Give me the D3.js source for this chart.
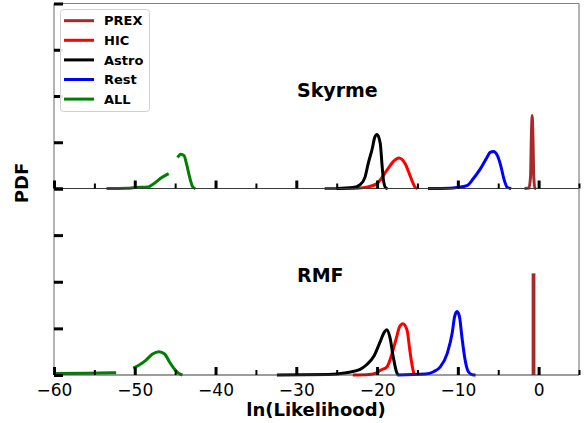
<!DOCTYPE html>
<html><head><meta charset="utf-8">
<script src="https://cdn.jsdelivr.net/npm/d3@7"></script>
<style>
body{margin:0;background:#fff;}
svg text{font-family:"DejaVu Sans",sans-serif;}
</style></head>
<body><svg id="c" width="585" height="423"></svg>
<script>
// ---- data: [ln(Likelihood), PDF] pairs ----
const seriesNames = ["PREX","HIC","Astro","Rest","ALL"];
const seriesColors = ["#a52a2a","#ff0000","#000000","#0000ff","#008000"];
const panelTitles = ["Skyrme","RMF"];
const xMajorTicks = [-60,-50,-40,-30,-20,-10,0];
const xMinorTicks = [-55,-45,-35,-25,-15,-5,5];
const yTicks = [0,1,2,3,4];

const skyrmePREX = [[-1.75,0],[-1.2,0.01],[-1.0,0.25],[-0.9,1.1],[-0.8,1.58],[-0.7,1.1],[-0.6,0.25],[-0.45,0.01],[-0.3,0]];
const skyrmeHIC = [[-26.5,0],[-23,0],[-21.3,0.03],[-20,0.11],[-18.8,0.39],[-18,0.58],[-17.3,0.66],[-16.5,0.53],[-15.9,0.27],[-15.3,0.03],[-15,0]];
const skyrmeAstro = [[-25,0],[-23,0.02],[-22.1,0.08],[-21.5,0.24],[-21.1,0.54],[-20.6,0.86],[-20.3,1.1],[-20,1.17],[-19.6,0.97],[-19.4,0.54],[-19.2,0.17],[-18.9,0.01],[-18.7,0]];
const skyrmeRest = [[-13.7,0],[-11,0.005],[-10.1,0.02],[-8.8,0.07],[-8.1,0.21],[-7.2,0.43],[-6.4,0.67],[-6,0.78],[-5.6,0.8],[-5.1,0.71],[-4.7,0.5],[-4.3,0.21],[-3.9,0.03],[-3.4,0]];
const skyrmeALL1 = [[-53.5,0],[-51,0.005],[-50,0.02],[-48.4,0.03],[-47.6,0.11],[-46.8,0.22],[-45.8,0.32]];
const skyrmeALL2 = [[-44.7,0.67],[-44.3,0.74],[-43.9,0.71],[-43.6,0.54],[-43.2,0.24],[-42.8,0.03],[-42.5,0]];

const rmfPREX = [[-0.63,0],[-0.63,2.18]];
const rmfHIC = [[-23,0],[-21,0.01],[-20,0.05],[-19.6,0.1],[-18.8,0.17],[-18.2,0.43],[-17.6,0.8],[-17.2,1.04],[-16.8,1.1],[-16.3,0.97],[-15.9,0.47],[-15.6,0.15],[-15.4,0]];
const rmfAstro = [[-32.4,0],[-26,0.01],[-23.8,0.05],[-22.1,0.12],[-21.3,0.22],[-20.4,0.4],[-19.6,0.72],[-19.1,0.92],[-18.8,0.97],[-18.4,0.8],[-18,0.39],[-17.6,0.07],[-17.4,0]];
const rmfRest = [[-17.5,0],[-14,0.02],[-13,0.07],[-12.2,0.17],[-11.3,0.47],[-10.7,0.9],[-10.4,1.25],[-10.1,1.36],[-9.8,1.25],[-9.5,0.82],[-9.1,0.32],[-8.7,0.07],[-8.2,0.005],[-7.8,0]];
const rmfALL1 = [[-60,0.03],[-56,0.035],[-52.3,0.05]];
const rmfALL2 = [[-50.2,0.15],[-49.4,0.22],[-48.6,0.32],[-47.8,0.45],[-47,0.5],[-46.3,0.45],[-45.7,0.28],[-45.1,0.13],[-44.6,0.04],[-44.1,0]];

const panels = [
  {title: panelTitles[0], curves: [[skyrmePREX],[skyrmeHIC],[skyrmeAstro],[skyrmeRest],[skyrmeALL1,skyrmeALL2]]},
  {title: panelTitles[1], curves: [[rmfPREX],[rmfHIC],[rmfAstro],[rmfRest],[rmfALL1,rmfALL2]]}
];

// ---- layout ----
const svg = d3.select("#c");
const L = 54, R = 579;
const panelBox = [{top:3.5, bottom:188.5},{top:188.5, bottom:375}];
const x = d3.scaleLinear().domain([-60,5]).range([L,R]);

panels.forEach((p,i)=>{
  const box = panelBox[i];
  const y = d3.scaleLinear().domain([0,4]).range([box.bottom, box.top]);
  const g = svg.append("g");
  const line = d3.line().x(d=>x(d[0])).y(d=>y(d[1]));
  p.curves.forEach((segs,k)=>{
    segs.forEach(seg=>{
      const isSpike = seg === rmfPREX;
      g.append("path").datum(seg)
        .attr("d", line.curve(isSpike ? d3.curveLinear : d3.curveMonotoneX)(seg))
        .attr("fill","none")
        .attr("stroke", seriesColors[k])
        .attr("stroke-width", isSpike ? 3.8 : 3)
        .attr("stroke-linejoin","round")
        .attr("stroke-linecap", k===0 ? "butt" : "butt");
    });
  });
  // spines
  g.append("line").attr("x1",L).attr("x2",L).attr("y1",box.top).attr("y2",box.bottom).attr("stroke","#808080").attr("stroke-width",1.2);
  g.append("line").attr("x1",R).attr("x2",R).attr("y1",box.top).attr("y2",box.bottom).attr("stroke","#808080").attr("stroke-width",1.2);
  if(i===0) g.append("line").attr("x1",L).attr("x2",R).attr("y1",box.top).attr("y2",box.top).attr("stroke","#808080").attr("stroke-width",1.2);
  g.append("line").attr("x1",L).attr("x2",R).attr("y1",box.bottom).attr("y2",box.bottom).attr("stroke","#3a3a3a").attr("stroke-width",1.2);

  // x ticks (inward)
  const xa = d3.axisBottom(x).tickValues(xMajorTicks).tickSize(-8).tickSizeOuter(0)
    .tickFormat(i===1 ? (d=>String(d).replace("-","\u2212")) : "");
  const gx = g.append("g").attr("transform",`translate(0,${box.bottom})`).call(xa);
  gx.select(".domain").remove();
  gx.selectAll(".tick line").attr("stroke","#000").attr("stroke-width",3);
  gx.selectAll(".tick text").attr("font-size",17).attr("fill","#000").attr("y",9).attr("dy","0.71em");
  const xm = d3.axisBottom(x).tickValues(xMinorTicks).tickSize(-5).tickSizeOuter(0).tickFormat("");
  const gm = g.append("g").attr("transform",`translate(0,${box.bottom})`).call(xm);
  gm.select(".domain").remove();
  gm.selectAll(".tick line").attr("stroke","#000").attr("stroke-width",2);

  // y ticks (inward, no labels)
  const ya = d3.axisLeft(y).tickValues(yTicks).tickSize(-9).tickSizeOuter(0).tickFormat("");
  const gy = g.append("g").attr("transform",`translate(${L},0)`).call(ya);
  gy.select(".domain").remove();
  gy.selectAll(".tick line").attr("stroke","#000").attr("stroke-width",3);

  // panel title
  g.append("text").attr("x",297).attr("y", box.top + 93).attr("font-size",19).attr("font-weight","bold").text(p.title);
});

// legend
const lg = svg.append("g");
lg.append("rect").attr("x",60.5).attr("y",9.5).attr("width",89).attr("height",102).attr("rx",3)
  .attr("fill","#fff").attr("fill-opacity",0.9).attr("stroke","#d0d0d0").attr("stroke-width",1);
seriesNames.forEach((n,k)=>{
  const yy = 20.7 + k*19.6;
  lg.append("line").attr("x1",64).attr("x2",94).attr("y1",yy).attr("y2",yy).attr("stroke",seriesColors[k]).attr("stroke-width",3);
  lg.append("text").attr("x",104).attr("y",yy+4.6).attr("font-size",13).attr("font-weight","bold").text(n);
});

// axis labels
svg.append("text").attr("x",316).attr("y",416).attr("text-anchor","middle").attr("font-size",18).attr("font-weight","bold").text("ln(Likelihood)");
svg.append("text").attr("transform","translate(28,183) rotate(-90)").attr("text-anchor","middle").attr("font-size",18).attr("font-weight","bold").text("PDF");
</script></body></html>
